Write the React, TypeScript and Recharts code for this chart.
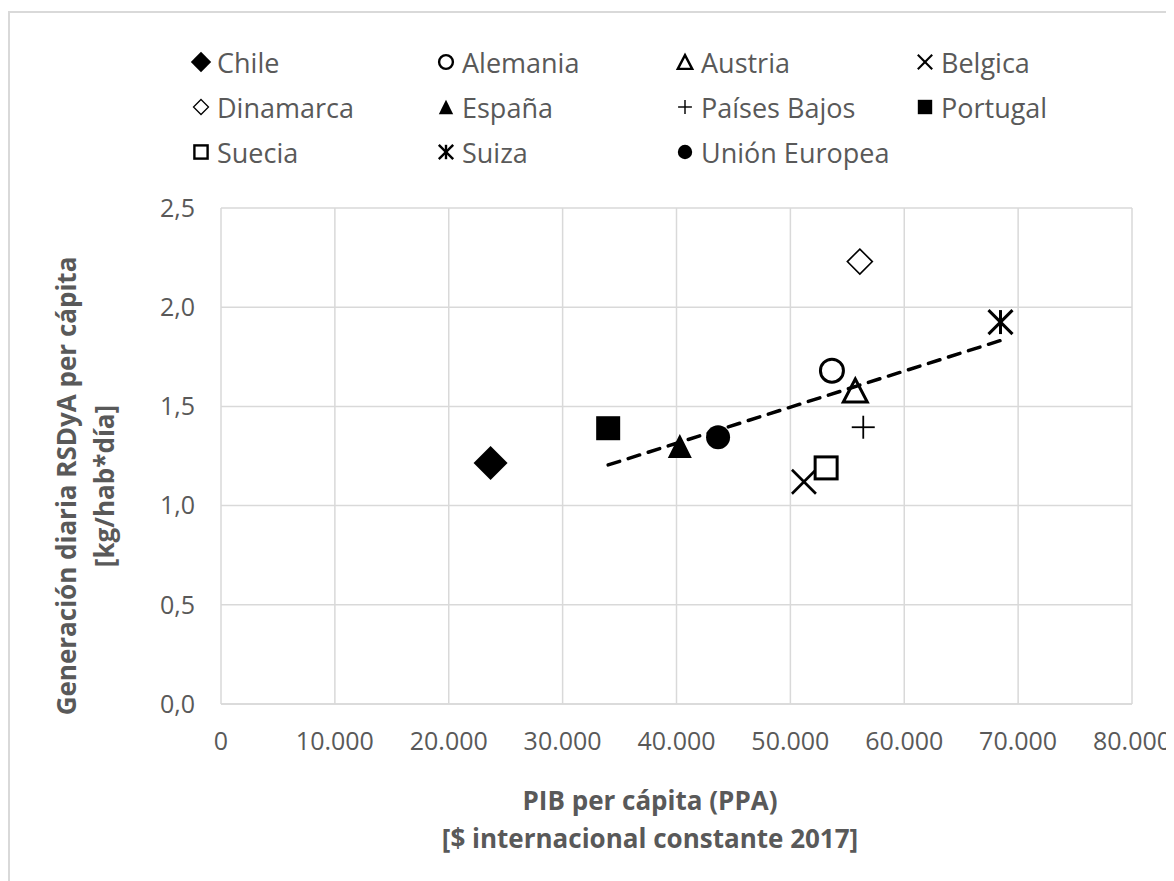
import React from 'react'
import { ScatterChart, Scatter, XAxis, YAxis, CartesianGrid } from 'recharts'

// datos
const countries = ['Chile', 'Alemania', 'Austria', 'Belgica', 'Dinamarca', 'España', 'Países Bajos', 'Portugal', 'Suecia', 'Suiza', 'Unión Europea']
const pibPerCapita = [23670, 53650, 55700, 51190, 56100, 40290, 56400, 34000, 53140, 68450, 43650]
const generacion = [1.215, 1.68, 1.58, 1.12, 2.23, 1.3, 1.395, 1.39, 1.19, 1.925, 1.345]

const trendX = [34000, 68450]
const trendY = [1.205, 1.832]

const xTicks = [0, 10000, 20000, 30000, 40000, 50000, 60000, 70000, 80000]
const yTicks = [0, 0.5, 1, 1.5, 2, 2.5]

// orden de la leyenda (filas de 4)
const legendOrder = ['Chile', 'Alemania', 'Austria', 'Belgica', 'Dinamarca', 'España', 'Países Bajos', 'Portugal', 'Suecia', 'Suiza', 'Unión Europea']

const markerOf: Record<string, string> = {
  Chile: 'diamondFilled',
  Alemania: 'circleOpen',
  Austria: 'triangleOpen',
  Belgica: 'cross',
  Dinamarca: 'diamondOpen',
  'España': 'triangleFilled',
  'Países Bajos': 'plus',
  Portugal: 'squareFilled',
  Suecia: 'squareOpen',
  Suiza: 'star',
  'Unión Europea': 'circleFilled',
}

const FONT = "'Open Sans', sans-serif"
const TEXT = '#595959'
const GRID = '#d9d9d9'

const Marker = ({ kind, cx, cy, k = 1 }: { kind: string; cx: number; cy: number; k?: number }) => {
  const sw = (w: number) => w * Math.max(k, 0.8)
  switch (kind) {
    case 'diamondFilled': {
      const h = 17 * k
      return <polygon points={`${cx},${cy - h} ${cx + h},${cy} ${cx},${cy + h} ${cx - h},${cy}`} fill="#000" />
    }
    case 'diamondOpen': {
      const h = 12.5 * k
      return <polygon points={`${cx},${cy - h} ${cx + h},${cy} ${cx},${cy + h} ${cx - h},${cy}`} fill="#fff" stroke="#000" strokeWidth={sw(1.6)} />
    }
    case 'circleOpen':
      return <circle cx={cx} cy={cy} r={11.5 * k} fill="#fff" stroke="#000" strokeWidth={sw(3)} />
    case 'circleFilled':
      return <circle cx={cx} cy={cy} r={12 * k} fill="#000" />
    case 'triangleOpen': {
      const w = 12 * k
      const h = 11.5 * k
      return <polygon points={`${cx},${cy - h} ${cx + w},${cy + h} ${cx - w},${cy + h}`} fill="#fff" stroke="#000" strokeWidth={sw(3)} />
    }
    case 'triangleFilled': {
      const w = 12 * k
      const h = 12 * k
      return <polygon points={`${cx},${cy - h} ${cx + w},${cy + h} ${cx - w},${cy + h}`} fill="#000" />
    }
    case 'squareFilled': {
      const s = 12 * k
      return <rect x={cx - s} y={cy - s} width={2 * s} height={2 * s} fill="#000" />
    }
    case 'squareOpen': {
      const s = 11 * k
      return <rect x={cx - s} y={cy - s} width={2 * s} height={2 * s} fill="#fff" stroke="#000" strokeWidth={sw(3)} />
    }
    case 'cross': {
      const s = 12 * k
      return (
        <g stroke="#000" strokeWidth={sw(2.6)}>
          <line x1={cx - s} y1={cy - s} x2={cx + s} y2={cy + s} />
          <line x1={cx - s} y1={cy + s} x2={cx + s} y2={cy - s} />
        </g>
      )
    }
    case 'plus': {
      const s = 11.5 * k
      return (
        <g stroke="#000" strokeWidth={sw(1.8)}>
          <line x1={cx - s} y1={cy} x2={cx + s} y2={cy} />
          <line x1={cx} y1={cy - s} x2={cx} y2={cy + s} />
        </g>
      )
    }
    case 'star': {
      const s = 12 * k
      return (
        <g stroke="#000" strokeWidth={sw(3)}>
          <line x1={cx - s} y1={cy - s} x2={cx + s} y2={cy + s} />
          <line x1={cx - s} y1={cy + s} x2={cx + s} y2={cy - s} />
          <line x1={cx} y1={cy - s} x2={cx} y2={cy + s} />
        </g>
      )
    }
    default:
      return <g />
  }
}

const fmtX = (v: number) => String(v).replace(/\B(?=(\d{3})+(?!\d))/g, '.')
const fmtY = (v: number) => v.toFixed(1).replace('.', ',')

const W = 1164
const H = 868
const legendCols = [191, 436, 675, 915]

export default function App() {
  const trend = trendX.map((x, i) => ({ x, y: trendY[i] }))

  return (
    <div style={{ paddingTop: 3 }}>
      <div
        style={{
          position: 'relative',
          width: W,
          height: H,
          borderTop: `2px solid ${GRID}`,
          borderLeft: `2px solid ${GRID}`,
          background: '#fff',
        }}
      >
        <ScatterChart width={W} height={H} margin={{ top: 195, right: 42, bottom: 117, left: 131 }}>
          <CartesianGrid stroke={GRID} strokeWidth={1.5} />
          <XAxis
            type="number"
            dataKey="x"
            domain={[0, 80000]}
            ticks={xTicks}
            tickFormatter={fmtX}
            axisLine={{ stroke: GRID, strokeWidth: 1.5 }}
            tickLine={false}
            tickSize={0}
            tickMargin={28}
            height={60}
            interval={0}
            tick={{ fill: TEXT, fontSize: 25, fontFamily: FONT }}
          />
          <YAxis
            type="number"
            dataKey="y"
            domain={[0, 2.5]}
            ticks={yTicks}
            tickFormatter={fmtY}
            axisLine={false}
            tickLine={false}
            tickSize={0}
            tickMargin={26}
            width={80}
            interval={0}
            tick={{ fill: TEXT, fontSize: 25, fontFamily: FONT }}
          />
          {countries.map((name, i) => (
            <Scatter
              key={name}
              name={name}
              data={[{ x: pibPerCapita[i], y: generacion[i] }]}
              isAnimationActive={false}
              shape={(p: any) => <Marker kind={markerOf[name]} cx={p.cx} cy={p.cy} />}
            />
          ))}
          <Scatter
            name="Tendencia"
            data={trend}
            isAnimationActive={false}
            line={{ stroke: '#000', strokeWidth: 3.5, strokeDasharray: '12 9', strokeLinecap: 'round' }}
            lineType="joint"
            legendType="none"
            shape={() => <g />}
          />
        </ScatterChart>

        <svg
          width={W}
          height={H}
          style={{ position: 'absolute', left: 0, top: 0, pointerEvents: 'none' }}
          fontFamily={FONT}
        >
          {legendOrder.map((name, i) => {
            const mx = legendCols[i % 4]
            const my = 49 + Math.floor(i / 4) * 45
            return (
              <g key={name}>
                <Marker kind={markerOf[name]} cx={mx} cy={my} k={0.6} />
                <text x={mx + 16} y={my} dominantBaseline="central" fontSize={27} fill={TEXT}>
                  {name}
                </text>
              </g>
            )
          })}

          <text x={640} y={787} textAnchor="middle" dominantBaseline="central" fontSize={26} fontWeight="bold" fill={TEXT}>
            PIB per cápita (PPA)
          </text>
          <text x={640} y={825} textAnchor="middle" dominantBaseline="central" fontSize={26} fontWeight="bold" fill={TEXT}>
            [$ internacional constante 2017]
          </text>

          <g transform="translate(56, 473) rotate(-90)">
            <text x={0} y={0} textAnchor="middle" dominantBaseline="central" fontSize={26} fontWeight="bold" fill={TEXT}>
              Generación diaria RSDyA per cápita
            </text>
          </g>
          <g transform="translate(94, 473) rotate(-90)">
            <text x={0} y={0} textAnchor="middle" dominantBaseline="central" fontSize={26} fontWeight="bold" fill={TEXT}>
              [kg/hab*día]
            </text>
          </g>
        </svg>
      </div>
    </div>
  )
}
